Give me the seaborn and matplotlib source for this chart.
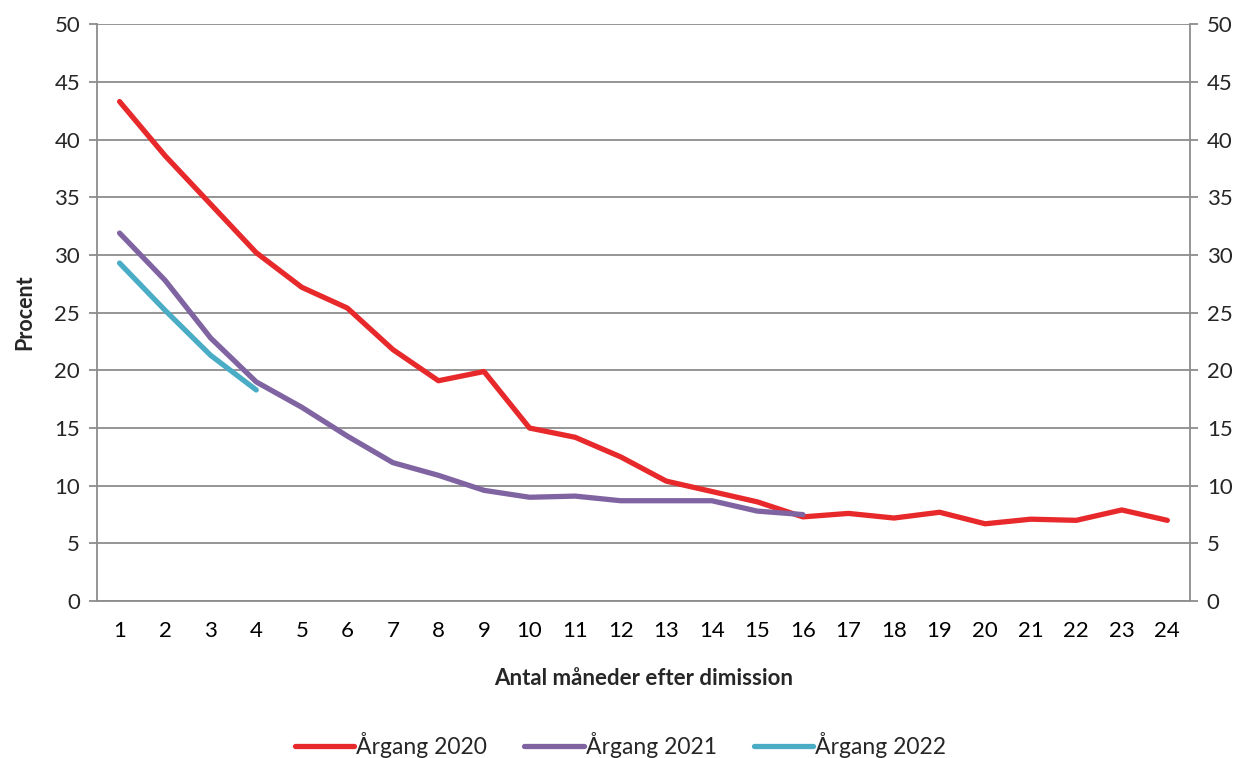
import matplotlib
matplotlib.use("Agg")
import matplotlib.pyplot as plt
import numpy as np
import pandas as pd
import seaborn as sns
from matplotlib.ticker import FixedLocator

# Data
months = list(range(1, 25))
aargang_2020 = [43.3, 38.6, 34.4, 30.2, 27.2, 25.4, 21.8, 19.1, 19.9, 15.0, 14.2, 12.5,
                10.4, 9.5, 8.6, 7.3, 7.6, 7.2, 7.7, 6.7, 7.1, 7.0, 7.9, 7.0]
aargang_2021 = [31.9, 27.8, 22.8, 19.0, 16.8, 14.3, 12.0, 10.9, 9.6, 9.0, 9.1, 8.7,
                8.7, 8.7, 7.8, 7.5]
aargang_2022 = [29.3, 25.2, 21.3, 18.3]
series_names = ["Årgang 2020", "Årgang 2021", "Årgang 2022"]
y_ticks = list(range(0, 55, 5))

colors = {"Årgang 2020": "#E8292B", "Årgang 2021": "#8064A2", "Årgang 2022": "#4BACC6"}

frames = []
for name, vals in zip(series_names, [aargang_2020, aargang_2021, aargang_2022]):
    frames.append(pd.DataFrame({"Måned": months[:len(vals)], "Procent": vals, "Serie": name}))
df = pd.concat(frames, ignore_index=True)

sns.set_theme(style="white")
plt.rcParams["font.family"] = ["Lato", "DejaVu Sans"]

fig = plt.figure(figsize=(12.41, 7.58), dpi=100)
ax = fig.add_axes([0.078, 0.207, 0.881, 0.761])

sns.lineplot(data=df, x="Måned", y="Procent", hue="Serie", palette=colors,
             linewidth=3.8, ax=ax, legend=True, solid_capstyle="round")

grid_col = "#8C8C8C"
ax.set_xlim(0.5, 24.5)
ax.set_ylim(0, 50)
ax.set_yticks(y_ticks)
ax.yaxis.grid(True, color=grid_col, linewidth=1.3)
ax.set_axisbelow(True)
for s in ["left", "right", "bottom"]:
    ax.spines[s].set_color(grid_col)
    ax.spines[s].set_linewidth(1.3)
ax.spines["top"].set_visible(False)

ax.set_xticks(months)
ax.xaxis.set_minor_locator(FixedLocator(np.arange(0.5, 25, 1)))
ax.tick_params(axis="x", which="major", length=0, labelsize=16, pad=14, colors="black")
ax.tick_params(axis="x", which="minor", length=6, width=1.3, color=grid_col, direction="out")
ax.tick_params(axis="y", length=6, width=1.3, color=grid_col, direction="out",
               labelsize=16, left=True, right=True, labelright=True, pad=6)

ax.set_xlabel("Antal måneder efter dimission", fontsize=16, fontweight="bold", labelpad=20)
ax.set_ylabel("Procent", fontsize=15.5, fontweight="bold", labelpad=14)

handles, labels = ax.get_legend_handles_labels()
ax.get_legend().remove()
fig.legend(handles, labels, loc="center", bbox_to_anchor=(0.5, 0.017), ncol=3,
           frameon=False, fontsize=16.5, handlelength=2.6, handletextpad=0.1,
           columnspacing=1.6)

fig.savefig("out.png", dpi=100)
